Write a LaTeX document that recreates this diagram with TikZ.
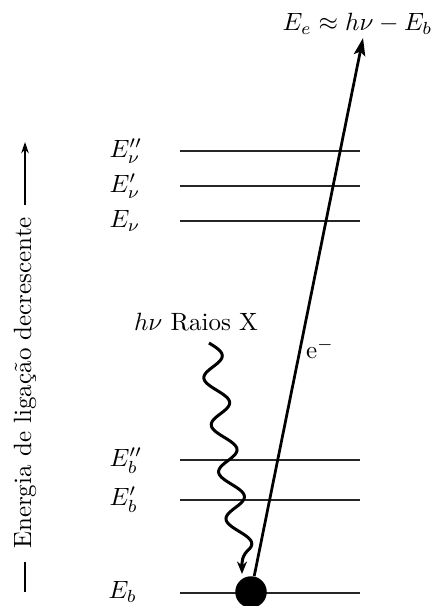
\documentclass[tikz,border=0pt]{standalone}
\usetikzlibrary{arrows.meta}
\begin{document}
\begin{tikzpicture}[x=0.4pt,y=-0.4pt,
  level/.style={line width=0.75pt, black!85},
  lbl/.style={inner sep=0pt, font=\normalsize},
  wave/.style={line width=1.2pt, -{Stealth[length=5pt,width=4pt]}},
  eline/.style={line width=1.1pt, -{Stealth[length=7pt,width=4.6pt,inset=1.5pt]}},
  axisline/.style={line width=0.6pt}]
\useasboundingbox (0,0) rectangle (435,606);

% energy levels
\foreach \n/\y in {nu2/151, nu1/186, nu0/221, b2/460, b1/500, b0/593}{
  \coordinate (\n L) at (180,\y);
  \coordinate (\n R) at (360,\y);
  \draw[level] (\n L) -- (\n R);
}

% level labels
\node[lbl, anchor=west] (lnu2) at (109,151) {$E''_\nu$};
\node[lbl, anchor=west] (lnu1) at (109,186) {$E'_\nu$};
\node[lbl, anchor=west] (lnu0) at (109,221) {$E_\nu$};
\node[lbl, anchor=west] (lb2) at (109,461) {$E''_b$};
\node[lbl, anchor=west] (lb1) at (109,500) {$E'_b$};
\node[lbl, anchor=west] (lb0) at (108,592) {$E_b$};

% core electron
\node[circle, fill=black, minimum size=12.6pt, inner sep=0pt] (core) at (251,592) {};

% photoelectron
\node[lbl, anchor=east] (Ee) at (433,24) {$E_e \approx h\nu - E_b$};
\coordinate (etip) at (363,38);
\draw[eline] (core) -- (etip);
\node[lbl] (el) at (320,349) {e$^-$};

% X-ray photon
\node[lbl] (xr) at (196,322) {$h\nu$ Raios X};
\coordinate (wtip) at (242,574);
\draw[wave] plot[domain=343:548, samples=160]
   ({212+0.157*(\x-360)+11*cos(7.65957*(\x-355))}, \x)
   .. controls (241,556) and (242,563) .. (wtip);

% energy axis
\node[lbl, rotate=90] (axis) at (25,383) {Energia de ligação decrescente};
\coordinate (ax1) at (25,205);
\coordinate (ax2) at (25,142);
\coordinate (ax3) at (25,562);
\coordinate (ax4) at (25,592);
\draw[axisline, -{Stealth[length=4.5pt,width=3pt]}] (ax1) -- (ax2);
\draw[axisline] (ax3) -- (ax4);
\end{tikzpicture}
\end{document}
